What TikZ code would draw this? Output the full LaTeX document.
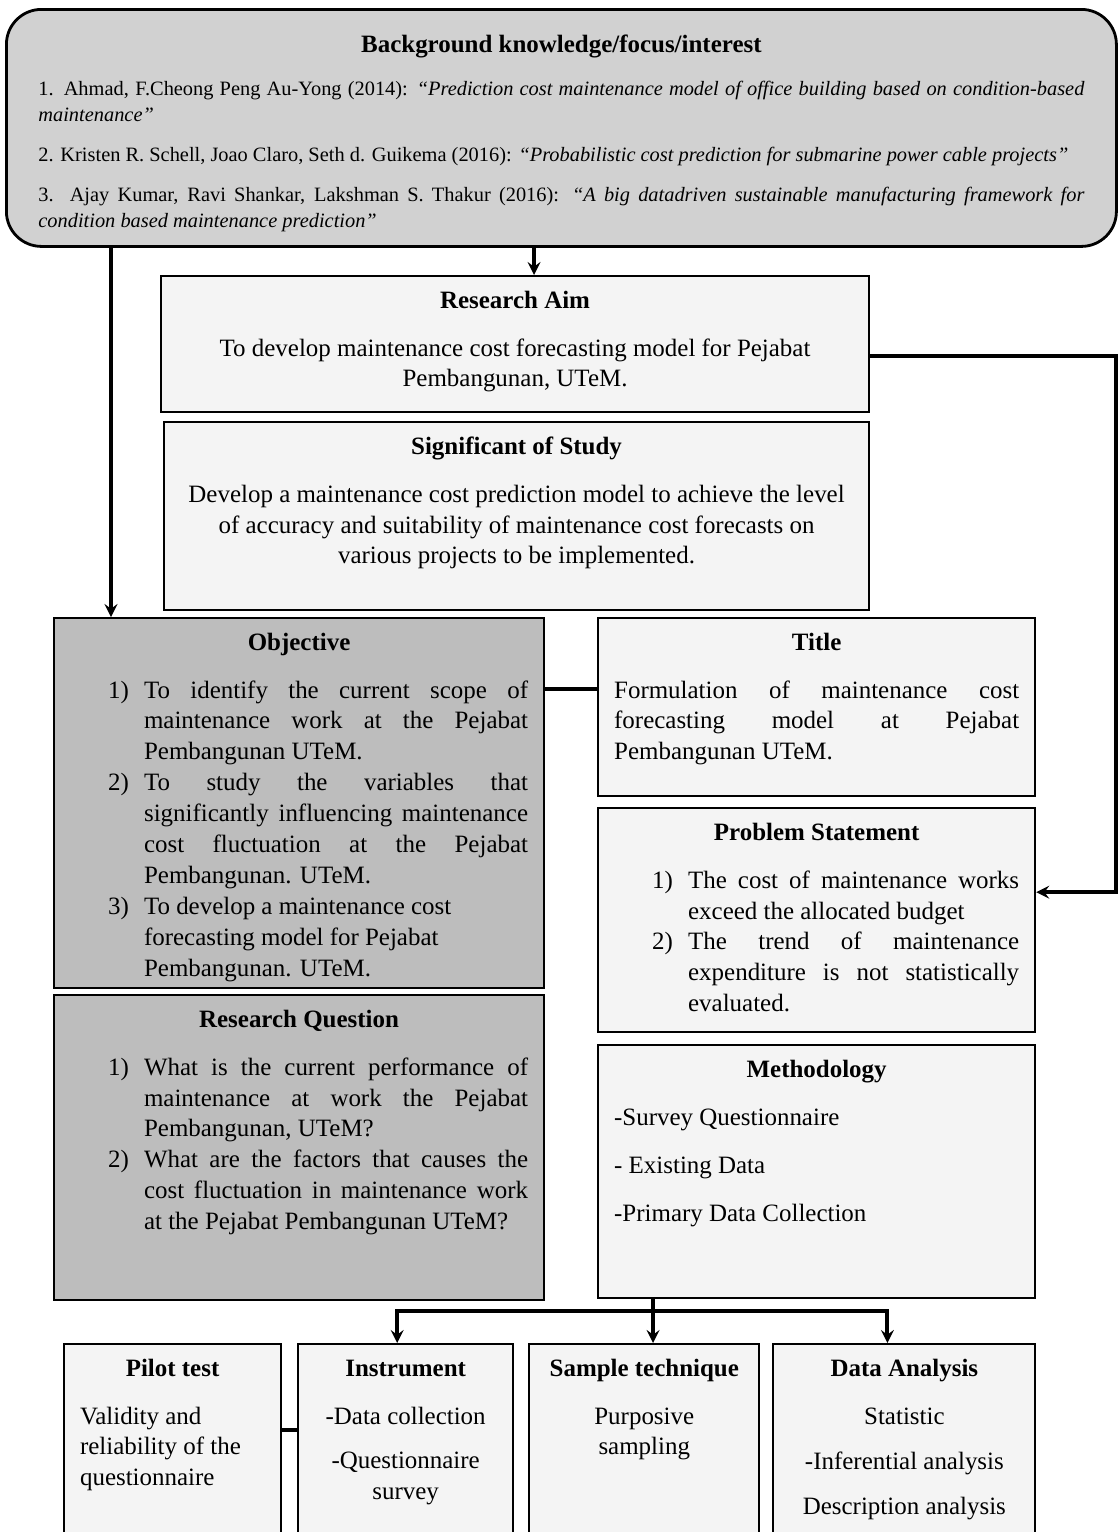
\documentclass[tikz,border=0pt]{standalone}
\usepackage{fontspec}
\setmainfont{Liberation Serif}
\usetikzlibrary{arrows,positioning}

\definecolor{headgray}{gray}{0.82}
\definecolor{objgray}{gray}{0.74}
\definecolor{paper}{gray}{0.955}

\newcommand{\bodysize}{\fontsize{14.2}{17.6}\selectfont}
\newcommand{\refsize}{\fontsize{11.6}{14.8}\selectfont}
\newcommand{\panel}[3]{\parbox[t][#2][t]{#1}{\bodysize #3}}
\newcommand{\boxhead}[1]{\centerline{\rule{0pt}{14.8pt}\textbf{#1}}\par\vspace{0.34cm}}
\newcommand{\numitem}[2]{\par\noindent\llap{\makebox[0.72cm][l]{#1}}#2\par}

\begin{document}
\begin{tikzpicture}[
    card/.style={rectangle, draw, line width=1.2pt, fill=paper, anchor=north west, inner xsep=0.32cm, inner ysep=0.12cm},
    greycard/.style={card, fill=objgray},
    arrow/.style={line width=2.2pt,->,>=stealth},
    link/.style={line width=2.2pt}
]
\useasboundingbox (0,0) rectangle (22.38,-30.64);

% Background box
\node[card, fill=headgray, rounded corners=0.7cm, line width=1.6pt, inner xsep=0.64cm] (bg) at (0.1,-0.16) {\panel{20.92cm}{4.5cm}{%
    \centerline{\rule{0pt}{21pt}\textbf{Background knowledge/focus/interest}}\par\vspace{0.34cm}
    {\refsize
    1. Ahmad, F.Cheong Peng Au-Yong (2014): \textit{“Prediction cost maintenance model of office building based on \mbox{condition-based}\linebreak maintenance”}\par\vspace{8pt}
    2. Kristen R. Schell, Joao Claro, Seth d. Guikema (2016): \textit{“Probabilistic cost prediction for submarine power cable projects”}\par\vspace{8pt}
    3. Ajay Kumar, Ravi Shankar, Lakshman S. Thakur (2016): \textit{“A big datadriven sustainable manufacturing framework for\linebreak condition based maintenance prediction”}\par}}};

% Aim and significance
\node[card] (aim) at (3.2,-5.5) {\panel{13.52cm}{2.48cm}{\boxhead{Research Aim}
    {\centering To develop maintenance cost forecasting model for Pejabat\\ Pembangunan, UTeM.\par}}};
\node[card, below=0.16cm of aim.south east, anchor=north east] (sig) {\panel{13.46cm}{3.52cm}{\boxhead{Significant of Study}
    {\centering Develop a maintenance cost prediction model to achieve the level\\ of accuracy and suitability of maintenance cost forecasts on\\ various projects to be implemented.\par}}};

% Left column
\node[greycard] (obj) at (1.06,-12.34) {\panel{9.16cm}{7.16cm}{\boxhead{Objective}
    {\leftskip=1.48cm
    \numitem{1)}{To identify the current scope of\linebreak maintenance work at the Pejabat\linebreak Pembangunan UTeM.}
    \numitem{2)}{To study the variables that\linebreak significantly influencing maintenance\linebreak cost fluctuation at the Pejabat\linebreak Pembangunan. UTeM.}
    \numitem{3)}{To develop a maintenance cost\newline forecasting model for Pejabat\newline Pembangunan. UTeM.}}}};
\node[greycard, below=0.1cm of obj.south west, anchor=north west] (rq) {\panel{9.16cm}{5.86cm}{\boxhead{Research Question}
    {\leftskip=1.48cm
    \numitem{1)}{What is the current performance of\linebreak maintenance at work the Pejabat\linebreak Pembangunan, UTeM?}
    \numitem{2)}{What are the factors that causes the\linebreak cost fluctuation in maintenance work\linebreak at the Pejabat Pembangunan UTeM?}}}};

% Right column
\node[card, right=1.04cm of obj.north east, anchor=north west] (title) {\panel{8.1cm}{3.32cm}{\boxhead{Title}
    Formulation of maintenance cost\linebreak forecasting model at Pejabat\linebreak Pembangunan UTeM.\par}};
\node[card, below=0.2cm of title.south west, anchor=north west] (prob) {\panel{8.1cm}{4.24cm}{\boxhead{Problem Statement}
    {\leftskip=1.48cm
    \numitem{1)}{The cost of maintenance works\linebreak exceed the allocated budget}
    \numitem{2)}{The trend of maintenance\linebreak expenditure is not statistically\linebreak evaluated.}}}};
\node[card, below=0.22cm of prob.south west, anchor=north west] (meth) {\panel{8.1cm}{4.82cm}{\boxhead{Methodology}
    -Survey Questionnaire\par\vspace{0.34cm}
    - Existing Data\par\vspace{0.34cm}
    -Primary Data Collection\par}};

% Bottom row
\node[card] (pilot) at (1.26,-26.86) {\panel{3.7cm}{3.96cm}{\boxhead{Pilot test}
    {\raggedright Validity and\\ reliability of the\\ questionnaire\par}}};
\node[card, right=0.3cm of pilot.north east, anchor=north west] (instr) {\panel{3.66cm}{3.96cm}{\boxhead{Instrument}
    {\centering -Data collection\par\vspace{0.28cm}
    -Questionnaire\\ survey\par}}};
\node[card, right=0.28cm of instr.north east, anchor=north west] (samp) {\panel{3.96cm}{3.96cm}{\boxhead{Sample technique}
    {\centering Purposive\\ sampling\par}}};
\node[card, right=0.24cm of samp.north east, anchor=north west] (data) {\panel{4.6cm}{3.96cm}{\boxhead{Data Analysis}
    {\centering Statistic\par\vspace{0.3cm}
    -Inferential analysis\par\vspace{0.28cm}
    Description analysis\par}}};

% Connectors
\coordinate (rail) at (22.32,0);
\draw[arrow] ([xshift=0.38cm]aim.north |- bg.south) -- ([xshift=0.38cm]aim.north);
\draw[arrow] ([xshift=1.16cm]obj.north west |- bg.south) -- ([xshift=1.16cm]obj.north west);
\draw[arrow] ([yshift=-0.24cm]aim.east) -- ([yshift=-0.24cm]aim.east -| rail) |- ([yshift=0.56cm]prob.east);
\draw[link] ([yshift=0.36cm]title.west) -- ([yshift=0.36cm]title.west -| obj.east);

\coordinate (hub) at ([xshift=1.12cm,yshift=-0.24cm]meth.south west);
\draw[link] ([xshift=1.12cm]meth.south west) -- (hub);
\draw[arrow] (hub) -| ([xshift=-0.17cm]instr.north);
\draw[arrow] (hub) -- (hub |- samp.north);
\draw[arrow] (hub) -| ([xshift=-0.34cm]data.north);
\draw[link] ([yshift=-1.74cm]pilot.north east) -- ([yshift=-1.74cm]instr.north west);

\end{tikzpicture}
\end{document}
